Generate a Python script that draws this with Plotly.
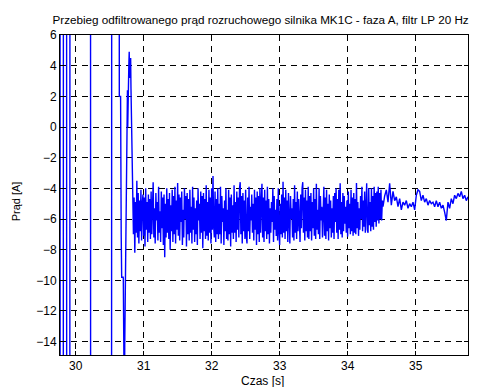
import numpy as np
import plotly.graph_objects as go

# ---- data ----
# start-up transient (times in s, current in A); values beyond the axis are clipped
t_transient = [29.770, 29.772, 29.818, 29.821, 29.866, 29.869, 29.914, 29.917,
               30.218, 30.221, 30.527, 30.532, 30.640, 30.642, 30.661, 30.663,
               30.670, 30.677, 30.699, 30.701, 30.703, 30.705, 30.707, 30.709,
               30.711, 30.714, 30.718, 30.722, 30.725, 30.728, 30.731, 30.734,
               30.737, 30.741, 30.745, 30.750, 30.756, 30.762, 30.766, 30.770,
               30.776, 30.782, 30.788, 30.793, 30.798, 30.804, 30.809, 30.814,
               30.819, 30.824, 30.829, 30.833, 30.837, 30.841, 30.845]
i_transient = [40, -40, -40, 40, 40, -40, -40, 40,
               40, -40, -40, 40, 40, 2.0, 2.0, -3.8,
               -7.0, -9.8, -9.8, -9.9, -12.8, -12.5, -14.1, -13.2,
               -14.5, -20, -20, -14.2, -13.0, -10.0, -8.1, -7.8,
               -4.0, -2.8, -3.9, -2.7, 0.2, 2.4, 0.0, 2.2,
               1.9, 4.0, 4.9, 3.2, 4.3, 3.8, 4.5, 2.5,
               1.0, 1.2, 0.0, -2.7, -3.9, -3.0, -5.0]

# noisy steady part, sampled every 0.01 s from 30.85 s
band_t0 = 30.85
band_dt = 0.01
i_band = [
    -7.0, -4.6, -8.2, -4.9, -6.9, -3.5, -7.2, -4.3, -7.6, -4.8,
    -6.8, -4.1, -7.4, -5.0, -4.4, -7.1, -4.6, -7.8, -4.0, -6.7,
    -4.9, -7.5, -4.4, -6.9, -4.7, -7.3, -4.2, -7.0, -5.2, -3.6,
    -7.2, -5.3, -7.6, -4.3, -6.1, -4.9, -7.4, -3.9, -6.9, -5.5,
    -7.5, -4.2, -6.6, -4.6, -7.7, -4.4, -8.5, -5.0, -7.2, -4.0,
    -6.9, -4.7, -7.3, -4.3, -8.0, -5.1, -6.8, -4.1, -7.5, -4.5,
    -7.0, -3.9, -7.6, -4.8, -6.7, -3.65, -7.1, -4.4, -7.4, -4.6,
    -6.2, -4.2, -7.7, -5.4, -7.2, -4.0, -6.0, -4.5, -7.8, -4.3,
    -7.0, -4.7, -7.4, -4.1, -6.9, -5.2, -7.6, -3.9, -6.7, -4.6,
    -7.5, -5.3, -7.0, -4.8, -7.7, -4.0, -6.1, -5.0, -7.3, -4.2,
    -6.9, -4.5, -7.9, -4.3, -6.8, -4.7, -7.3, -3.8, -7.1, -4.9,
    -7.4, -4.1, -6.9, -4.6, -7.6, -4.0, -6.7, -3.2, -6.5, -7.2,
    -4.2, -7.5, -4.7, -7.0, -4.0, -7.3, -5.0, -7.0, -3.9, -7.6,
    -4.5, -6.2, -5.3, -7.7, -4.8, -6.8, -4.0, -7.3, -5.4, -7.4,
    -4.1, -7.0, -4.6, -7.8, -4.4, -6.9, -5.1, -7.3, -3.8, -6.9,
    -4.9, -7.5, -4.2, -6.7, -4.6, -7.2, -4.0, -3.6, -7.0, -4.5,
    -7.6, -4.3, -6.8, -4.8, -7.3, -4.1, -7.1, -7.6, -4.6, -6.8,
    -3.9, -7.3, -5.2, -6.1, -4.4, -6.9, -5.0, -7.4, -4.1, -6.7,
    -4.6, -7.7, -4.2, -7.0, -4.5, -7.5, -4.0, -6.9, -4.9, -3.7,
    -7.2, -4.6, -7.5, -4.1, -6.8, -4.8, -7.3, -3.9, -7.0, -4.7,
    -7.6, -5.3, -6.9, -4.9, -6.2, -4.0, -7.5, -4.5, -6.7, -5.4,
    -7.1, -4.7, -7.4, -4.0, -6.8, -7.7, -5.0, -7.0, -4.4, -7.2,
    -3.57, -6.9, -4.6, -7.3, -4.1, -6.8, -4.8, -7.5, -4.3, -7.0,
    -7.6, -4.5, -6.0, -5.3, -7.2, -4.7, -7.4, -3.8, -6.9, -4.9,
    -7.3, -4.2, -6.8, -4.7, -7.5, -7.5, -4.4, -6.6, -4.0, -3.6,
    -6.9, -4.6, -7.4, -4.1, -6.8, -4.8, -7.2, -3.9, -7.3, -4.5,
    -6.8, -4.3, -7.4, -4.9, -6.6, -4.0, -7.1, -4.7, -7.3, -3.7,
    -6.7, -5.4, -7.0, -4.0, -7.3, -4.5, -6.1, -5.2, -7.2, -4.9,
    -3.9, -7.1, -4.6, -7.3, -4.1, -6.8, -5.0, -7.4, -4.4, -6.6,
    -4.8, -7.2, -5.3, -6.9, -4.5, -7.3, -4.3, -6.2, -4.0, -6.9,
    -4.7, -7.3, -4.1, -6.7, -3.67, -7.0, -4.9, -7.2, -4.3, -6.8,
    -4.5, -6.3, -5.2, -6.9, -4.8, -7.15, -4.2, -6.6, -5.0, -7.0,
    -4.1, -6.8, -4.6, -7.1, -4.3, -6.9, -4.7, -7.0, -3.65, -6.6,
    -4.9, -7.1, -5.3, -6.7, -4.5, -6.0, -3.9, -6.8, -4.8, -6.5,
    -4.2, -6.9, -4.6, -3.67, -6.7, -6.9, -4.0, -6.4, -4.9, -6.8,
    -4.0, -6.5, -4.5, -6.7, -3.9, -6.2, -4.3, -6.5, -4.2, -6.1,
    -3.9, -6.3, -4.3, -6.0, -4.1, -6.1, -4.8,
]

# calmer final part, sampled every 0.0245 s from 34.52 s
tail_t0 = 34.52
tail_dt = 0.0245
i_tail = [
    -5.2, -4.5, -4.1, -4.9, -3.67, -5.1, -4.2, -4.8, -4.55, -5.2,
    -4.67, -5.4, -4.9, -5.1, -4.8, -5.3, -5.0, -5.2, -4.9, -5.4,
    -4.45, -4.1, -4.2, -4.8, -4.45, -4.9, -4.67, -5.1, -4.8, -5.0,
    -4.9, -5.2, -4.8, -5.2, -4.9, -5.3, -5.1, -5.55, -6.1, -4.9,
    -5.3, -4.67, -5.0, -4.45, -4.67, -4.33, -4.55, -4.2, -4.67, -4.45,
    -4.8, -4.55,
]

x_ticks = [30, 31, 32, 33, 34, 35]
y_ticks = [-14, -12, -10, -8, -6, -4, -2, 0, 2, 4, 6]

title_text = "Przebieg odfiltrowanego prąd rozruchowego silnika MK1C - faza A, filtr LP 20 Hz"
x_label = "Czas [s]"
y_label = "Prąd [A]"

# ---- assemble series ----
t_band = band_t0 + band_dt * np.arange(len(i_band))
t_tail = tail_t0 + tail_dt * np.arange(len(i_tail))
t_all = np.concatenate([np.array(t_transient), t_band, t_tail])
i_all = np.concatenate([np.array(i_transient), np.array(i_band), np.array(i_tail)])

font = "Arial, Liberation Sans, Helvetica, sans-serif"

fig = go.Figure()
fig.add_trace(go.Scatter(
    x=t_all, y=i_all, mode="lines",
    line=dict(color="#0000FF", width=1.4),
    showlegend=False, hoverinfo="skip",
))

axis_common = dict(
    showline=True, linecolor="black", linewidth=1, mirror="ticks",
    ticks="inside", ticklen=4, tickcolor="black", tickwidth=1,
    showgrid=True, gridcolor="black", gridwidth=1, griddash="6px,5px",
    zeroline=False, automargin=False,
    tickfont=dict(family=font, size=12, color="black"),
)

fig.update_xaxes(range=[29.77, 35.77], tickvals=x_ticks, **axis_common)
fig.update_yaxes(range=[-14.87, 6], tickvals=y_ticks, **axis_common)

# the page body adds an 8 px margin; the figure is sized to fit the window
fig.update_layout(
    width=473, height=379,
    margin=dict(l=52, r=13, t=27, b=32, autoexpand=False),
    paper_bgcolor="white", plot_bgcolor="white",
    title=dict(text=title_text, x=0.534, xanchor="center", y=0.968, yanchor="middle",
               font=dict(family=font, size=11.7, color="black")),
    annotations=[
        dict(text=x_label, xref="paper", yref="paper", x=0.496, y=-0.082,
             xanchor="center", yanchor="middle", showarrow=False,
             font=dict(family=font, size=12, color="black")),
        dict(text=y_label, xref="paper", yref="paper", x=-0.108, y=0.48,
             xanchor="center", yanchor="middle", showarrow=False, textangle=-90,
             font=dict(family=font, size=11, color="black")),
    ],
)

fig.write_html("out.html", config={"displayModeBar": False})
